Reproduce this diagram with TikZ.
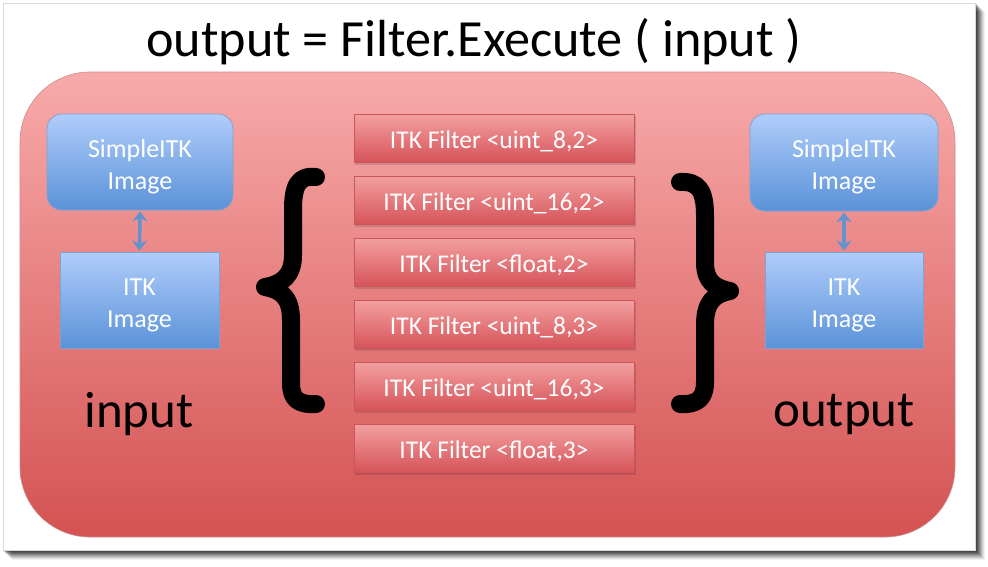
\documentclass[tikz,border=0pt]{standalone}
\usepackage{fontspec}
\setmainfont{Carlito}
\usetikzlibrary{arrows.meta}
\definecolor{redtop}{HTML}{F8AAAA}
\definecolor{redbot}{HTML}{D45252}
\definecolor{bluetop}{HTML}{B0CDFB}
\definecolor{bluebot}{HTML}{5A92D8}
\definecolor{blueedge}{HTML}{7FA2D4}
\definecolor{filttop}{HTML}{F3A0A0}
\definecolor{filtbot}{HTML}{D6545A}
\definecolor{filtedge}{HTML}{C9565C}
\definecolor{arrowblue}{HTML}{6393CF}
\newcommand{\twolines}[2]{\raisebox{-5pt}[\height][\depth]{\begin{tabular}{@{}c@{}}#1\\#2\end{tabular}}}
\newcommand{\lowtext}[1]{\raisebox{-3pt}[\height][\depth]{#1}}
\tikzset{
  bluebox/.style={draw=blueedge, line width=0.8pt, top color=bluetop, bottom color=bluebot,
    text=white, align=center, font=\fontsize{26}{32}\selectfont, inner sep=0pt},
  filterbox/.style={draw=filtedge, line width=0.8pt, top color=filttop, bottom color=filtbot,
    text=white, font=\fontsize{25.5}{28}\selectfont, minimum width=280pt, minimum height=48pt, inner sep=0pt},
  dblarrow/.style={arrowblue, line width=3.5pt, {Stealth[length=10pt,width=15pt]}-{Stealth[length=10pt,width=15pt]}, shorten <=1pt, shorten >=1pt},
  biglabel/.style={font=\fontsize{51}{53}\selectfont, text=black, inner sep=0pt},
  bracestroke/.style={draw=black, line width=18pt, line cap=round, line join=round}
}
\begin{document}
\begin{tikzpicture}[x=1pt,y=-1pt]
\useasboundingbox (0,0) rectangle (988,566);
\fill[white] (0,0) rectangle (988,566);
% slide drop shadow
\foreach \i/\o in {9/0.05,8/0.07,7/0.09,6/0.11,5/0.13,4/0.15,3/0.17,2/0.19,1/0.21}{
  \fill[black, opacity=\o] (3+\i,3+\i) rectangle (976+\i,551+\i);
}
\fill[white] (3,3) rectangle (975,550);
\draw[gray!30, line width=0.5pt] (3,3) rectangle (975,550);
% title
\node[font=\fontsize{52.2}{55}\selectfont, inner sep=0pt] (title) at (474,42) {output = Filter.Execute ( input )};
% main rounded panel
\path[draw=redbot!80!black!60, line width=0.6pt, top color=redtop, bottom color=redbot, rounded corners=70pt]
  (20,72) rectangle (955,537);
% left side
\node[bluebox, rounded corners=15pt, minimum width=186pt, minimum height=96pt] (lsimple) at (140,162) {\twolines{SimpleITK}{Image}};
\node[bluebox, minimum width=159pt, minimum height=96pt] (litk) at (139.5,300) {\twolines{ITK}{Image}};
\draw[dblarrow] (lsimple.south) -- (litk.north);
\node[biglabel] (lin) at (139,414) {input};
% right side
\node[bluebox, rounded corners=15pt, minimum width=188pt, minimum height=97pt] (rsimple) at (844,162.5) {\twolines{SimpleITK}{Image}};
\node[bluebox, minimum width=158pt, minimum height=96pt] (ritk) at (844,300) {\twolines{ITK}{Image}};
\draw[dblarrow] (rsimple.south) -- (ritk.north);
\node[biglabel] (rout) at (844,414) {output};
% filters
\foreach \n/\y/\t in {f1/138/{ITK Filter <uint\_8,2>}, f2/200/{ITK Filter <uint\_16,2>}, f3/262/{ITK Filter <float,2>},
                      f4/324/{ITK Filter <uint\_8,3>}, f5/386/{ITK Filter <uint\_16,3>}, f6/448/{ITK Filter <float,3>}}{
  \fill[black, opacity=0.12] (355,\y-22) rectangle (636,\y+27);
  \node[filterbox] (\n) at (494,\y) {\lowtext{\t}};
}
% braces
\draw[bracestroke] (316,177) .. controls (298,175) and (293,186) .. (293,210) -- (293,255)
  .. controls (293,276) and (282,284) .. (265,287)
  .. controls (282,290) and (291,298) .. (291,320) -- (291,383)
  .. controls (291,399) and (298,405) .. (316,404);
\draw[bracestroke] (680,182) .. controls (698,181) and (705,190) .. (705,215) -- (705,262)
  .. controls (705,281) and (714,288) .. (730,291)
  .. controls (714,294) and (705,302) .. (705,325) -- (705,382)
  .. controls (705,398) and (698,405) .. (680,404);
\end{tikzpicture}
\end{document}
